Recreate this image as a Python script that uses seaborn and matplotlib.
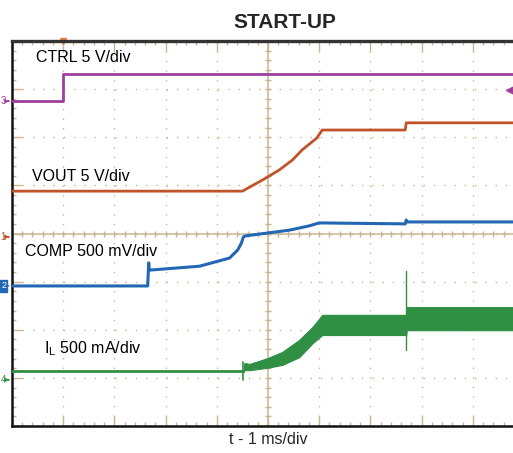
import numpy as np
import pandas as pd
import matplotlib
matplotlib.use("Agg")
import matplotlib.pyplot as plt
import seaborn as sns

# ---------------- data (in screen divisions) ----------------
ctrl_x = [0.0, 0.99, 0.99, 9.78]
ctrl_y = [6.75, 6.75, 7.31, 7.31]

vout_x = [0.0, 4.50, 4.89, 5.22, 5.48, 5.67, 5.95, 6.06, 7.68, 7.70, 9.78]
vout_y = [4.88, 4.88, 5.11, 5.32, 5.53, 5.74, 5.98, 6.15, 6.15, 6.30, 6.30]

comp_x = [0.0, 2.65, 2.67, 2.68, 2.70, 3.66, 4.25, 4.41, 4.48, 4.52, 4.56, 4.99, 5.42, 5.81, 6.00, 7.68, 7.70, 7.72, 9.78]
comp_y = [2.91, 2.91, 3.39, 3.24, 3.24, 3.32, 3.49, 3.66, 3.80, 3.93, 3.95, 4.01, 4.07, 4.16, 4.22, 4.20, 4.28, 4.24, 4.24]

il_base_x = [0.0, 4.52]
il_base_y = [1.14, 1.14]
il_band_x = [4.52, 4.54, 4.64, 4.99, 5.28, 5.61, 5.87, 6.06, 7.68, 7.70, 7.71, 9.78]
il_band_hi = [1.16, 1.31, 1.29, 1.41, 1.54, 1.79, 2.06, 2.31, 2.31, 2.31, 2.47, 2.47]
il_band_lo = [1.12, 1.16, 1.16, 1.21, 1.27, 1.43, 1.72, 1.89, 1.89, 1.89, 1.99, 1.99]
il_spike1_x = [4.52, 4.52]
il_spike1_y = [0.96, 1.33]
il_spike2_x = [7.70, 7.70]
il_spike2_y = [1.58, 3.22]

labels = ["CTRL 5 V/div", "VOUT 5 V/div", "COMP 500 mV/div", "I$_\\mathrm{L}$ 500 mA/div"]
label_pos = [(0.47, 7.65), (0.39, 5.19), (0.25, 3.62), (0.62, 1.60)]
ch_marks = ["3", "1", "2", "4"]
ch_levels = [6.75, 3.93, 2.91, 0.96]

title = "START-UP"
xlabel = "t - 1 ms/div"

# ---------------- style ----------------
c_ctrl = "#9e3f9b"
c_vout = "#c1532b"
c_comp = "#2366b4"
c_il = "#2f8f43"
tan = "#c9b58f"
ch_colors = [c_ctrl, c_vout, c_comp, c_il]

sns.set_theme(style="white")
plt.rcParams["font.family"] = ["Liberation Sans", "DejaVu Sans"]
plt.rcParams["mathtext.fontset"] = "custom"
plt.rcParams["mathtext.rm"] = "Liberation Sans"
plt.rcParams["mathtext.it"] = "Liberation Sans"

W, H = 513, 453
fig = plt.figure(figsize=(W / 100, H / 100), dpi=100)
ax = fig.add_axes([12 / W, (H - 426) / H, (W - 12) / W, (426 - 41) / H])
ax.set_facecolor("white")
ax.set_xlim(0, 501 / 51.2)
ax.set_ylim(0, 8)

# graticule
ax.set_xticks(np.arange(0, 10, 1))
ax.set_yticks(np.arange(0, 9, 1))
ax.set_xticks(np.arange(0, 9.8, 0.2), minor=True)
ax.set_yticks(np.arange(0, 8.01, 0.2), minor=True)
ax.tick_params(which="both", direction="in", color=tan, labelbottom=False, labelleft=False,
               top=True, bottom=True, left=True, right=False)
ax.tick_params(which="major", length=7, width=1)
ax.tick_params(which="minor", length=3, width=1)
ax.xaxis.grid(True, which="major", color=tan, linestyle=(0, (1, 5.9)), linewidth=1.0)
ax.yaxis.grid(True, which="major", color=tan, linestyle=(0, (1, 6.4)), linewidth=1.0)
ax.axhline(4, color=tan, lw=1.1, zorder=1)
ax.axvline(5, color=tan, lw=1.1, zorder=1)
mx = np.arange(0, 9.8, 0.2)
my = np.arange(0, 8.01, 0.2)
ax.plot(mx, np.full_like(mx, 4), linestyle="none", marker="|", ms=5, mew=1, color=tan, zorder=1)
ax.plot(np.full_like(my, 5), my, linestyle="none", marker="_", ms=5, mew=1, color=tan, zorder=1)

for s in ["left", "bottom"]:
    ax.spines[s].set_color("#111111")
    ax.spines[s].set_linewidth(1.8)
ax.spines["top"].set_color("#333333")
ax.spines["top"].set_linewidth(2.4)
ax.spines["right"].set_visible(False)

# traces
def line(x, y, color, lw):
    sns.lineplot(x=x, y=y, ax=ax, color=color, lw=lw, sort=False, estimator=None, zorder=3)

line(ctrl_x, ctrl_y, c_ctrl, 2.0)
line(vout_x, vout_y, c_vout, 2.0)
line(comp_x, comp_y, c_comp, 2.2)
line(il_base_x, il_base_y, c_il, 2.0)
ax.fill_between(il_band_x, il_band_lo, il_band_hi, color=c_il, lw=0.8, edgecolor=c_il, zorder=3)
line(il_spike1_x, il_spike1_y, c_il, 1.2)
line(il_spike2_x, il_spike2_y, c_il, 1.0)

# labels
for t, (lx, ly) in zip(labels, label_pos):
    ax.text(lx, ly, t, fontsize=11.5, color="black", ha="left", va="center", zorder=4)

# channel markers on left
for m, lvl, c in zip(ch_marks, ch_levels, ch_colors):
    ax.annotate("", xy=(0, lvl), xytext=(-0.12, lvl),
                arrowprops=dict(arrowstyle="-|>", color=c, lw=1, mutation_scale=5),
                annotation_clip=False)
    if m == "2":
        ax.text(-0.21, lvl, m, ha="left", va="center", fontsize=6.5, color="white",
                clip_on=False, bbox=dict(boxstyle="square,pad=0.12", fc=c, ec=c))
    else:
        ax.text(-0.22, lvl, m, ha="left", va="center", fontsize=7, color=c, clip_on=False)

# trigger markers
ax.plot([0.99], [8.0], marker="v", ms=5, color="#f07b3c", clip_on=False, zorder=2)
ax.plot([9.72], [6.98], marker="<", ms=6, color=c_ctrl, clip_on=False, zorder=5)

fig.text(285 / W, 1 - 22 / H, title, fontsize=15, fontweight="bold", ha="center", va="center")
fig.text(268 / W, 1 - 440 / H, xlabel, fontsize=11.5, ha="center", va="center")

fig.savefig("out.png", dpi=100, facecolor="white")
